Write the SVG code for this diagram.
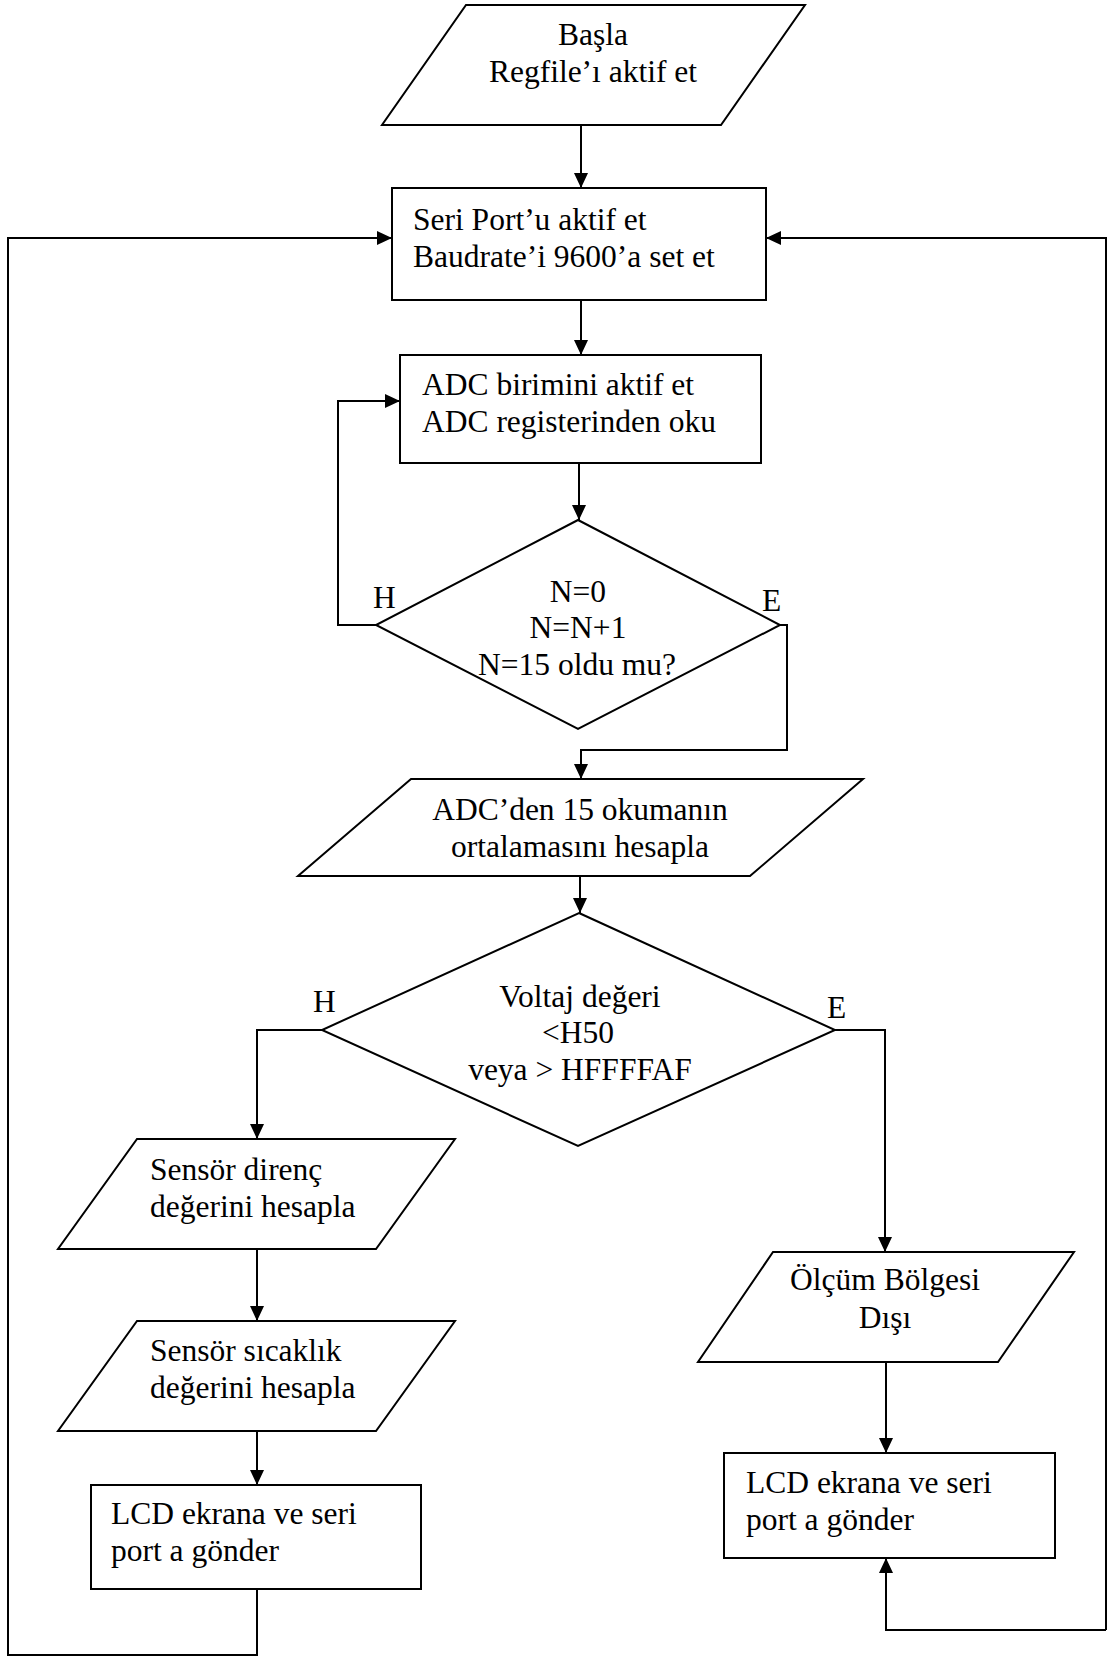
<svg xmlns="http://www.w3.org/2000/svg" width="1113" height="1657" viewBox="0 0 1113 1657">
<style>
.s{fill:#fff;stroke:#000;stroke-width:2}
.c{fill:none;stroke:#000;stroke-width:2}
text{font-family:"Liberation Serif","Times New Roman",serif;font-size:31.5px;fill:#000}
.m{text-anchor:middle}
</style>
<defs>
<marker id="a" viewBox="0 0 15 14" refX="15" refY="7" markerWidth="15" markerHeight="14" markerUnits="userSpaceOnUse" orient="auto">
<path d="M0,0 L15,7 L0,14 z" fill="#000"/>
</marker>
</defs>
<rect width="1113" height="1657" fill="#fff"/>
<g id="connectors" class="c">
<path class="c" d="M581,125 V188" marker-end="url(#a)"/>
<path class="c" d="M581,300 V355" marker-end="url(#a)"/>
<path class="c" d="M579,463 V520" marker-end="url(#a)"/>
<path class="c" d="M376,625 H338 V401 H400" marker-end="url(#a)"/>
<path class="c" d="M780,625 H787 V750 H581 V779" marker-end="url(#a)"/>
<path class="c" d="M580,876 V913" marker-end="url(#a)"/>
<path class="c" d="M322,1030 H257 V1139" marker-end="url(#a)"/>
<path class="c" d="M835,1030 H885 V1252" marker-end="url(#a)"/>
<path class="c" d="M257,1249 V1321" marker-end="url(#a)"/>
<path class="c" d="M257,1431 V1485" marker-end="url(#a)"/>
<path class="c" d="M257,1589 V1655 H8 V238 H392" marker-end="url(#a)"/>
<path class="c" d="M886,1362 V1453" marker-end="url(#a)"/>
<path class="c" d="M1106,1630 H886 V1558" marker-end="url(#a)"/>
<path class="c" d="M1106,1630 V238 H766" marker-end="url(#a)"/>
</g>
<g id="basla">
<polygon class="s" points="466,5 805,5 721,125 382,125"/>
<text class="m" x="593" y="45">Başla</text>
<text class="m" x="593" y="82">Regfile’ı aktif et</text>
</g>
<g id="seriport">
<rect class="s" x="392" y="188" width="374" height="112"/>
<text x="413" y="230">Seri Port’u aktif et</text>
<text x="413" y="267">Baudrate’i 9600’a set et</text>
</g>
<g id="adc">
<rect class="s" x="400" y="355" width="361" height="108"/>
<text x="422" y="395">ADC birimini aktif et</text>
<text x="422" y="432">ADC registerinden oku</text>
</g>
<g id="karar1">
<polygon class="s" points="578,520 780,625 578,729 376,625"/>
<text class="m" x="578" y="602">N=0</text>
<text class="m" x="578" y="638">N=N+1</text>
<text class="m" x="577" y="675">N=15 oldu mu?</text>
<text x="373" y="608">H</text>
<text x="762" y="611">E</text>
</g>
<g id="ortalama">
<polygon class="s" points="411,779 863,779 750,876 298,876"/>
<text class="m" x="580" y="820">ADC’den 15 okumanın</text>
<text class="m" x="580" y="857">ortalamasını hesapla</text>
</g>
<g id="karar2">
<polygon class="s" points="579,913 835,1030 578,1146 322,1030"/>
<text class="m" x="580" y="1007">Voltaj değeri</text>
<text class="m" x="578" y="1043">&lt;H50</text>
<text class="m" x="580" y="1080">veya &gt; HFFFFAF</text>
<text x="313" y="1012">H</text>
<text x="827" y="1018">E</text>
</g>
<g id="direnc">
<polygon class="s" points="137,1139 455,1139 376,1249 58,1249"/>
<text x="150" y="1180">Sensör direnç</text>
<text x="150" y="1217">değerini hesapla</text>
</g>
<g id="sicaklik">
<polygon class="s" points="137,1321 455,1321 376,1431 58,1431"/>
<text x="150" y="1361">Sensör sıcaklık</text>
<text x="150" y="1398">değerini hesapla</text>
</g>
<g id="lcd1">
<rect class="s" x="91" y="1485" width="330" height="104"/>
<text x="111" y="1524">LCD ekrana ve seri</text>
<text x="111" y="1561">port a gönder</text>
</g>
<g id="olcum">
<polygon class="s" points="773,1252 1074,1252 998,1362 698,1362"/>
<text class="m" x="885" y="1290">Ölçüm Bölgesi</text>
<text class="m" x="885" y="1328">Dışı</text>
</g>
<g id="lcd2">
<rect class="s" x="724" y="1453" width="331" height="105"/>
<text x="746" y="1493">LCD ekrana ve seri</text>
<text x="746" y="1530">port a gönder</text>
</g>
</svg>
